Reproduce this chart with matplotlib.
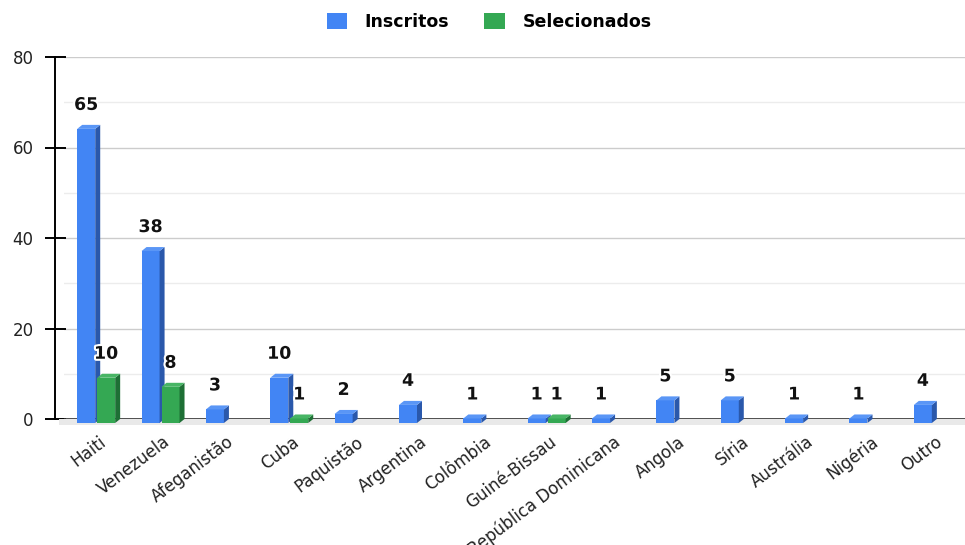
import numpy as np
import matplotlib
matplotlib.use('Agg')
import matplotlib.pyplot as plt
from matplotlib.patches import Polygon, Patch, Rectangle
from matplotlib.transforms import Affine2D, IdentityTransform, ScaledTranslation, blended_transform_factory
import matplotlib.patheffects as pe
from matplotlib.ticker import MultipleLocator

categories = ["Haiti", "Venezuela", "Afeganistão", "Cuba", "Paquistão", "Argentina",
              "Colômbia", "Guiné-Bissau", "República Dominicana", "Angola", "Síria",
              "Austrália", "Nigéria", "Outro"]
inscritos = [65, 38, 3, 10, 2, 4, 1, 1, 1, 5, 5, 1, 1, 4]
selecionados = [10, 8, 0, 1, 0, 0, 0, 1, 0, 0, 0, 0, 0, 0]
series_names = ["Inscritos", "Selecionados"]
yticks = [0, 20, 40, 60, 80]

front_colors = ["#4285f4", "#34a853"]
side_colors = ["#2a58ab", "#1e6f35"]
top_colors = ["#5a96f6", "#48b565"]

W, H, DPI = 965, 545, 100
DX, DY = 5, 4  # 3D depth in pixels

plt.rcParams['font.family'] = ['DejaVu Sans']
fig = plt.figure(figsize=(W / DPI, H / DPI), dpi=DPI)
ax = fig.add_axes([64 / W, (H - 419) / H, 901 / W, 362 / H])
ax.set_xlim(-0.5, 13.5)
ax.set_ylim(0, 80)

# grid
ax.set_yticks(yticks)
ax.yaxis.set_minor_locator(MultipleLocator(10))
ax.grid(axis='y', which='major', color='#cccccc', lw=1.0, zorder=0)
ax.grid(axis='y', which='minor', color='#ececec', lw=1.0, zorder=0)
ax.set_axisbelow(True)

for s in ['top', 'right', 'bottom']:
    ax.spines[s].set_visible(False)
ax.spines['left'].set_position(('outward', 9 * 72 / DPI))
ax.spines['left'].set_color('black')
ax.spines['left'].set_linewidth(1.4)
ax.tick_params(axis='y', which='major', direction='inout', length=21 * 72 / DPI,
               width=1.4, color='black', labelsize=12, pad=8, labelcolor='#222222')
ax.tick_params(axis='y', which='minor', length=0)

# floor and baseline
floor_h = DY + 2
fl = Rectangle((-0.006, 0), 1.006, 1, facecolor='#e9e9e9', edgecolor='none', clip_on=False,
               zorder=1)
fl.set_transform(blended_transform_factory(ax.transAxes, IdentityTransform()))
fig.canvas.draw()
y0_disp = ax.transData.transform((0, 0))[1]
fl.set_xy((-0.006, y0_disp - floor_h))
fl.set_height(floor_h)
ax.add_patch(fl)
ax.axhline(0, color='#333333', lw=1.2, zorder=2)

x = np.arange(len(categories))
bar_w = 0.28
offs = [-0.155, 0.155]
front_tr = ax.transData + Affine2D().translate(0, -DY)

for k, vals in enumerate([inscritos, selecionados]):
    xs = [xi + offs[k] for xi, v in zip(x, vals) if v > 0]
    vs = [v for v in vals if v > 0]
    bars = ax.bar(xs, vs, width=bar_w, color=front_colors[k], transform=front_tr,
                  clip_on=False, zorder=3, linewidth=0)
    for b, v, xc in zip(bars, vs, xs):
        verts = b.get_verts()
        x0, x1 = verts[:, 0].min(), verts[:, 0].max()
        y0, y1 = verts[:, 1].min(), verts[:, 1].max()
        side = Polygon([(x1, y0), (x1 + DX, y0 + DY), (x1 + DX, y1 + DY), (x1, y1)],
                       closed=True, facecolor=side_colors[k], edgecolor='none',
                       transform=IdentityTransform(), clip_on=False, zorder=3)
        top = Polygon([(x0, y1), (x0 + DX, y1 + DY), (x1 + DX, y1 + DY), (x1, y1)],
                      closed=True, facecolor=top_colors[k], edgecolor='none',
                      transform=IdentityTransform(), clip_on=False, zorder=3)
        ax.add_patch(side)
        ax.add_patch(top)
        ax.annotate(str(v), xy=(xc, v), xytext=(0, 20 * 72 / DPI), textcoords='offset points',
                    ha='center', va='center', fontsize=12.5, fontweight='bold', color='#111111',
                    zorder=5, annotation_clip=False,
                    path_effects=[pe.withStroke(linewidth=3, foreground='white')])

ax.set_xticks(x)
ax.set_xticklabels(categories, rotation=37, ha='right', rotation_mode='anchor',
                   fontsize=12, color='#222222')
ax.tick_params(axis='x', length=0, pad=10)
for lab in ax.get_xticklabels():
    lab.set_transform(lab.get_transform() + ScaledTranslation(2 / DPI, 0, fig.dpi_scale_trans))

handles = [Patch(facecolor=front_colors[0], edgecolor='none'),
           Patch(facecolor=front_colors[1], edgecolor='none')]
fig.legend(handles, series_names, loc='upper center', bbox_to_anchor=(489 / W, 1.005),
           ncol=2, frameon=False, prop={'weight': 'bold', 'size': 12.5},
           handlelength=1.2, handleheight=1.0, handletextpad=1.0, columnspacing=2.0)

fig.savefig('out.png', dpi=DPI)
